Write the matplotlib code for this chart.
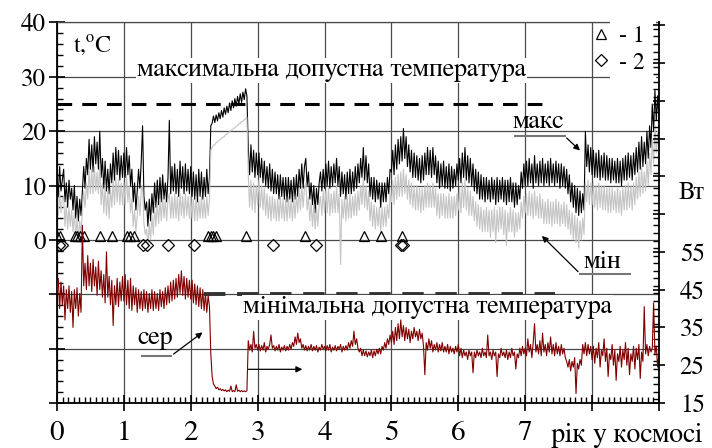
import numpy as np
import matplotlib
matplotlib.use("Agg")
import matplotlib.pyplot as plt
from matplotlib.lines import Line2D
from matplotlib.patches import Rectangle
from matplotlib.ticker import MultipleLocator, FixedLocator, FixedFormatter

plt.rcParams["font.family"] = ["FreeSerif", "Liberation Serif", "DejaVu Serif"]
plt.rcParams["mathtext.fontset"] = "custom"
plt.rcParams["mathtext.rm"] = "FreeSerif"

# max temperature, deg C, sampled every 0.02 year from 0 to 9 (two rows per year)
t_max = [
    12, 8, 13.5, 9, 11, 13, 7, 10.5, 6, 11, 7.5, 9.5, 5.5, 10, 4, 8, 3.5, 7.5, 4.5, 9, 13.5, 9.5, 15, 12, 18.5,
    13, 17.5, 12.5, 19, 14, 18, 13, 20, 11.5, 15, 9.5, 14.5, 9, 13, 8.5, 14, 10.5, 16, 11, 17, 12, 16.5, 11, 15.5, 11.5,
    16, 11.5, 17, 12, 15.5, 10, 13, 7, 10.5, 5.5, 9, 13, 9.5, 14.5, 21, 8, 5.5, 7, 2.5, 7.5, 3.5, 8.5, 5, 10.5, 6,
    11, 6.5, 11.5, 7, 12, 7.5, 10.5, 7, 11.5, 22, 8.5, 13.5, 9, 14, 8.5, 13, 8, 14.5, 9.5, 13.5, 8.5, 14, 9, 13, 8.5,
    13.5, 8, 12.5, 7.5, 12, 7, 13, 8, 12.5, 7.5, 11.5, 8, 13, 8.5, 11.5, 21, 21.5, 22.8, 21.6, 23, 21.9, 23.4, 22.3, 23.8, 22.6,
    24.3, 23.1, 24.6, 23.4, 25.2, 23.8, 25.6, 24.3, 26, 24.6, 26.4, 25, 26.9, 25.3, 27.2, 25.8, 27.8, 26.5, 17, 12, 17.5, 12.5, 16.5, 11.5, 16,
    12, 16, 11.5, 15, 10.5, 14.5, 10, 13.5, 9.5, 14, 9, 13, 8.5, 12.5, 8.5, 12, 7.5, 12, 8, 11.5, 7.5, 11.5, 7, 11.5, 7.5,
    11, 7, 11.5, 7.5, 12, 8, 13, 9.5, 14, 9.5, 13.5, 15, 10, 12.5, 7.5, 10.5, 6.5, 10, 5, 9.5, 6.5, 10.5, 12.5, 9, 13,
    9.5, 14, 10, 14.5, 9.5, 13.5, 10, 14, 10.5, 15, 10, 13.5, 8, 12.5, 8.5, 12, 7.5, 12.5, 8.5, 13, 8.5, 12.5, 9, 13.5, 9.5,
    14, 10.5, 15, 11.5, 17, 11, 15.5, 10.5, 14, 8, 11.5, 7.5, 11.5, 7, 11, 7.5, 10.5, 6, 10.5, 7, 10.5, 7, 11.5, 8.5, 13,
    12.5, 16.5, 12, 17.5, 13, 18.5, 14, 19, 14.5, 20.5, 15, 19, 13.5, 17.5, 12.5, 16.5, 11.5, 16, 11.5, 15.5, 11, 15, 10.5, 15.5, 11,
    16, 12, 17, 12, 16.5, 11.5, 17, 12, 15.5, 10.5, 14.5, 9.5, 14, 10, 14.5, 9.5, 13.5, 9.5, 14, 9, 13.5, 9.5, 13, 10, 14,
    11, 15, 10.5, 16, 11.5, 17, 11, 15.5, 10.5, 15, 10, 14, 9, 13, 8.5, 12.5, 7.5, 12, 7.5, 11.5, 7, 11.5, 7.5, 11, 7,
    11.5, 7.5, 11, 6.5, 11.5, 7, 11, 7.5, 11.5, 7, 11, 6.5, 11, 7, 11.5, 7, 10.5, 6, 10.5, 6.5, 10, 7.5, 12.5, 9.5, 14,
    10, 14.5, 10, 15, 10.5, 14, 9.5, 15.5, 10.5, 14, 10, 14.5, 10.5, 15, 10, 14, 10.5, 14.5, 10, 15, 10.5, 14, 10, 14.5, 10.5,
    14, 9.5, 14, 10, 13.5, 9.5, 13, 8.5, 12, 7, 10.5, 6, 10, 5, 9.5, 4.5, 9, 5, 8.5, 5.5, 20, 13.5, 17.5, 12.5, 17,
    12, 16.5, 11.5, 16, 11.5, 16.5, 11, 15.5, 11.5, 16, 11, 15.5, 11, 15, 10.5, 15, 11, 14.5, 10.5, 15, 10.5, 14.5, 10, 15, 11,
    15.5, 11, 16, 11.5, 15.5, 11, 16, 12, 17, 12.5, 18, 13, 19, 13.5, 18, 14, 20, 15, 21, 17, 25, 20, 27.5, 22, 26.5, 22,
]

# min temperature, deg C
t_min = [
    8, 4.5, 9, 5, 7.5, 8, 2.5, 6.5, 2, 6, 2.5, 5.5, 1.5, 5, 0.5, 4, 0, 3.5, 1, 5.5, 9, 6, 10.5, 7.5, 13,
    8.5, 13, 8.5, 13.5, 9, 12.5, 8.5, 14, 6.5, 10.5, 5, 10, 4.5, 9, 4, 9.5, 6, 11, 6.5, 11.5, 7, 11, 6.5, 10.5, 6.5,
    10.5, 6.5, 12, 7, 10, 5, 7.5, 2.5, 5.5, 1.5, 4.5, 8, 4.5, 9, 10, 3, 1, 2, -1, 3, 0, 4.5, 1, 6, 2.5,
    7, 3, 7.5, 3.5, 8, 4, 7.5, 3.5, 7.5, 8.5, 4, 8, 4, 8.5, 4, 8, 3.5, 8.5, 4.5, 8, 4, 8.5, 4.5, 8, 4,
    8, 4, 7.5, 3.5, 8, 3.5, 7.5, 4, 8, 4, 7.5, 4, 8, 4.5, 7.5, 16.5, 17, 17.4, 17.5, 17.9, 18, 18.3, 18.5, 18.6, 18.9,
    19, 19.4, 19.4, 19.8, 19.8, 20.2, 20.2, 20.5, 20.7, 20.9, 21, 21.4, 21.4, 21.8, 21.8, 22.1, 22.3, 22.6, 12, 6, 11, 5.5, 10.5, 5, 10,
    6.5, 11, 6, 10, 5.5, 9.5, 4.5, 8.5, 4, 8, 3.5, 8, 4, 7.5, 3.5, 7.5, 3.5, 8, 4, 7.5, 3.5, 7.5, 3.5, 8, 4,
    7.5, 3.5, 8, 4, 8.5, 5, 9.5, 5.5, 10, 6, 9.5, 10.5, 5.5, 8, 3.5, 7, 2.5, 6.5, 2, 6, 2.5, 6.5, 8, 4.5, 9,
    5, 9, 5, 9.5, 4.5, 8.5, 5, 9, 5, 10, 5, 8.5, -4.5, 7.5, 4, 8, 3.5, 8, 4, 8.5, 4, 8, 4.5, 8.5, 4.5,
    9, 5.5, 10, 6.5, 11.5, 6, 10, 5.5, 9, 3.5, 7, 2.5, 6.5, 2, 6, 2.5, 6, 1.5, 6, 2.5, 6, 2.5, 6.5, 4, 8.5,
    7, 11, 6.5, 11.5, 7.5, 12, 8, 12.5, 8, 13, 8.5, 12, 7.5, 11, 6.5, 10.5, 6, 10, 5.5, 10, 5.5, 9.5, 5, 9.5, 5.5,
    10, 6, 10.5, 6, 10, 6, 10.5, 6, 9.5, 4.5, 8.5, 4, 8.5, 4.5, 8.5, 4, 8, 4, 8.5, 4, 8, 4, 8, 4.5, 8.5,
    5.5, 9.5, 5, 10.5, 6, 11, 5.5, 9.5, 4.5, 9, 4.5, 8, 3.5, 7, 2.5, 6.5, 2, 6, 1.5, 5.5, 1.5, 6, 1.5, 5.5, 0.5,
    5.5, 1.5, 6, -0.5, 5.5, 1.5, 6, 2, 6, 1, 5.5, -1, 5, 1.5, 6, 1.5, 5.5, 0.5, 5, 1.5, 5, 2, 7, 4, 8,
    5, 8.5, 4.5, 9, 4.5, 8.5, 4, 9, 4.5, 8, 4, 8.5, 4, 7.5, 3, 7, 3, 7.5, 3, 7, 2.5, 7, 3, 7.5, 3,
    7, 2.5, 6.5, 3, 7, 2.5, 6.5, 2, 5.5, 1, 5, 0, 4.5, -0.5, 4, -1.5, 3.5, 0, 4, 1, 10.5, 7, 11, 6.5, 10.5,
    6.5, 10.5, 6, 10, 5.5, 10.5, 6, 10, 5.5, 10, 5.5, 9.5, 5, 9.5, 5, 9.5, 5.5, 9, 5, 9.5, 5, 9, 4.5, 9.5, 5.5,
    10, 5.5, 10.5, 6, 10, 5.5, 10.5, 6.5, 11.5, 7.5, 12.5, 8, 13.5, 8.5, 12.5, 9, 14.5, 10, 16, 12, 18.5, 14, 21, 16, 20, 15,
]

# mean power, W (right axis)
p_mean = [
    44, 48, 40, 47, 41, 46, 37, 45, 40, 46, 39, 44.5, 35, 45, 40, 45.5, 38, 44, 39, 62, 46, 52, 45, 54, 46,
    52, 44.5, 53, 46, 51, 43.5, 52.5, 45, 50, 43, 49, 41.5, 55, 43, 48.5, 41, 47.5, 35.5, 46, 41, 48, 40.5, 47, 42, 48.5,
    42, 49, 41, 47.5, 40, 48, 39.5, 46, 41, 45.5, 39, 45, 40, 44.5, 39.5, 45, 40, 44.5, 39, 44, 40, 45, 39.5, 44.5, 40,
    44, 39.5, 45, 40.5, 44.5, 40, 45.5, 41, 46, 41.5, 47, 42, 47.5, 42.5, 48, 43, 49, 44, 50, 43.5, 48.5, 42.5, 48, 43, 47.5,
    42.5, 47.5, 41.5, 46.5, 41, 46, 40.5, 45.5, 40, 45, 39.5, 44, 39, 43.5, 40.5, 28, 22, 20, 19.5, 18.8, 19.2, 18.5, 18.8, 18.3, 18.6,
    18.2, 18.5, 18, 18.4, 18.1, 19.5, 18, 18.3, 18, 19.8, 18.1, 18.4, 18, 18.3, 18, 18.2, 18, 18.3, 31.5, 29, 30.5, 28.5, 34, 29.5, 30.5,
    29, 30.5, 28.8, 30.2, 29, 31, 28.5, 30, 29.2, 30.5, 33, 29.5, 30.2, 28.8, 30, 29, 30.5, 28.5, 29.8, 29, 30.2, 28.8, 30, 29, 30.5,
    29.2, 31, 30, 32.5, 30.5, 33.5, 31, 32, 29.5, 30.5, 29, 30.2, 28.8, 30, 29, 30.5, 28.8, 30, 29, 30.2, 28.5, 29.8, 29, 30.5, 29.2,
    30, 28.8, 30.2, 29, 30.5, 28.5, 29.8, 29, 30.2, 28.8, 30, 29.2, 30.5, 28.5, 30, 29, 30.2, 29, 31, 29.5, 31.5, 30, 34, 30.5, 32,
    29.5, 28.5, 29.5, 27.5, 29, 27.5, 28.8, 27.2, 28.5, 27.5, 29, 27, 28.8, 27.5, 29.2, 28, 29.5, 28, 30, 29, 31, 29.5, 32, 30.5, 33,
    31, 34, 30.5, 35, 31.5, 36, 32, 37, 32.5, 35.5, 31.5, 35, 32, 34.5, 31, 34, 32, 35, 32.5, 34, 31.5, 34.5, 32, 33.5, 30,
    22.5, 31, 29, 32, 29.5, 31.5, 28.5, 30.5, 29, 31, 28.5, 30.5, 28.8, 31, 28.5, 30, 28.5, 30.5, 28, 30, 28.5, 29.5, 28, 30, 28.5,
    30.5, 27.5, 29.5, 27, 29, 27.5, 28.5, 26.5, 29, 27.5, 28.5, 23, 28.5, 27, 29, 27.5, 28.5, 27, 29.5, 27.5, 28.5, 27, 33, 27.5, 28.5,
    26.5, 29, 27.5, 28.5, 22, 28, 27, 29.5, 27.5, 28.5, 27, 29, 26.5, 28.5, 27, 29.5, 27.5, 28.5, 24, 28, 27, 29.5, 27.5, 30, 28,
    29.5, 27.5, 32, 28.5, 30.5, 27, 31, 36, 28.5, 30.5, 28, 31.5, 27.5, 33.5, 28.5, 30.5, 27.5, 31, 28.5, 32.5, 28, 30.5, 27.5, 31, 28,
    30, 27.5, 30.5, 28, 29.5, 27, 26, 24.5, 26.5, 23.5, 26, 24.5, 27, 17.5, 25.5, 24, 26.5, 25, 30.5, 28, 31, 27.5, 30.5, 28, 30,
    26.5, 30, 25.5, 29.5, 27, 31, 24.5, 29, 27.5, 32, 26, 29.5, 22, 28, 26.5, 30.5, 25, 29, 21, 28, 26, 30, 24.5, 29, 26.5,
    31, 25, 29.5, 22.5, 28, 26, 30, 24, 29.5, 26.5, 30.5, 21.5, 28.5, 26, 40.5, 28, 30.5, 27.5, 30, 28.5, 29.5, 41.5, 28, 30, 24.5, 28,
]

# event markers
events_1 = [0.0, 0.04, 0.27, 0.30, 0.34, 0.40, 0.65, 0.82, 1.04, 1.09, 1.15,
            2.26, 2.30, 2.34, 2.38, 2.83, 3.71, 4.59, 4.84, 5.16]
events_2 = [0.03, 0.08, 1.29, 1.35, 1.66, 2.05, 3.23, 3.87, 5.15, 5.17]

t_limit_max = 25
t_limit_min = -10

x_labels = ["0", "1", "2", "3", "4", "5", "6", "7", "", ""]
t_labels = ["", "", "", "0", "10", "20", "30", "40"]
p_labels = ["15", "25", "35", "45", "55"] + [""] * 6


def time_axis(values):
    return np.linspace(0.0, 9.0, len(values))


fig = plt.figure(figsize=(7.12, 4.48), dpi=100)
ax = fig.add_axes([0.080, 0.1004, 0.8455, 0.8494])
ax2 = ax.twinx()

ax.set_xlim(0, 9)
ax.set_ylim(-30, 40)
ax2.set_ylim(15, 115.7)

ax.set_axisbelow(True)
ax.grid(True, which="major", color="#4a4a4a", lw=0.9)

# limits
ax.plot([0, 7.25], [t_limit_max] * 2, color="black", lw=2.2, dashes=(4.8, 3.3))
ax.plot([2.2, 7.45], [t_limit_min] * 2, color="#333333", lw=2.8, dashes=(5.5, 3))

ax.plot(time_axis(t_max), t_max, color="black", lw=0.8)
ax.plot(time_axis(t_min), t_min, color="#c4c4c4", lw=0.8)
ax2.plot(time_axis(p_mean), p_mean, color="#800000", lw=0.8)

ax.plot(events_1, [0.8] * len(events_1), ls="none", marker="^", ms=7.5,
        mfc="none", mec="black", mew=0.9)
ax.plot(events_2, [-1.0] * len(events_2), ls="none", marker="D", ms=6,
        mfc="none", mec="black", mew=0.9)

# texts
ax.text(0.235, 34.4, "t,$^{\\mathrm{o}}$C", fontsize=17, va="baseline")
ax.text(1.196, 30.1, "максимальна допустна температура", fontsize=19, va="baseline",
        bbox=dict(facecolor="white", edgecolor="none", pad=0.5), zorder=3)
ax.text(2.78, -13.5, "мінімальна допустна температура", fontsize=19, va="baseline",
        bbox=dict(facecolor="white", edgecolor="none", pad=0.5), zorder=3)

arrow = dict(arrowstyle="-|>", color="black", lw=0.9, mutation_scale=9)

ax.text(7.19, 20.5, "макс", fontsize=19, ha="center", va="baseline")
ax.plot([6.85, 7.59], [19.1, 19.1], color="#777777", lw=1.5)
ax.annotate("", xy=(7.85, 16.1), xytext=(7.59, 19.1), arrowprops=arrow)

ax.text(8.16, -5.1, "мін", fontsize=19, ha="center", va="baseline")
ax.plot([7.82, 8.57], [-6.2, -6.2], color="#777777", lw=1.5)
ax.annotate("", xy=(7.22, 1.1), xytext=(7.82, -6.2), arrowprops=arrow)

ax.text(1.46, -19.1, "сер", fontsize=19, ha="center", va="baseline")
ax.plot([1.27, 1.71], [-21.3, -21.3], color="#777777", lw=1.5)
ax.annotate("", xy=(2.21, -16.7), xytext=(1.71, -21.3), arrowprops=arrow)
ax.annotate("", xy=(3.71, -23.8), xytext=(2.81, -23.8), arrowprops=arrow)

# ticks
ax.xaxis.set_major_locator(FixedLocator(range(10)))
ax.xaxis.set_major_formatter(FixedFormatter(x_labels))
ax.xaxis.set_minor_locator(MultipleLocator(1 / 12))
ax.yaxis.set_major_locator(FixedLocator(range(-30, 41, 10)))
ax.yaxis.set_major_formatter(FixedFormatter(t_labels))
ax.yaxis.set_minor_locator(MultipleLocator(2))
ax.tick_params(axis="both", which="major", direction="inout", length=12, width=1.2)
ax.tick_params(axis="both", which="minor", direction="in", length=4.5, width=1)
ax.tick_params(axis="x", which="major", labelsize=21, pad=7)
ax.tick_params(axis="y", which="major", labelsize=18, pad=2)

ax2.yaxis.set_major_locator(FixedLocator(range(15, 116, 10)))
ax2.yaxis.set_major_formatter(FixedFormatter(p_labels))
ax2.yaxis.set_minor_locator(MultipleLocator(2))
ax2.tick_params(axis="y", which="major", direction="inout", length=8, width=1.2,
                labelsize=18, pad=11)
ax2.tick_params(axis="y", which="minor", direction="in", length=4.5, width=1)

ax.annotate("рік у космосі", xy=(8.52, 0), xycoords=("data", "axes fraction"),
            xytext=(0, -14), textcoords="offset points", ha="center", va="top",
            fontsize=20)
ax2.annotate("Вт", xy=(1.032, 70.6), xycoords=("axes fraction", "data"),
             ha="left", va="center", fontsize=18)

for s in ["left", "bottom"]:
    ax.spines[s].set_linewidth(1.3)
ax.spines["right"].set_visible(False)
ax.spines["top"].set_color("#4a4a4a")
ax.spines["top"].set_linewidth(0.9)
for s in ["left", "bottom", "top"]:
    ax2.spines[s].set_visible(False)
ax2.spines["right"].set_linewidth(1.3)

# legend
ax.add_patch(Rectangle((0.9186, 0.849), 0.0764, 0.16, transform=ax.transAxes,
                       facecolor="white", edgecolor="none", zorder=4, clip_on=False))
handles = [
    Line2D([], [], ls="none", marker="^", ms=7.5, mfc="none", mec="black", mew=0.9),
    Line2D([], [], ls="none", marker="D", ms=6, mfc="none", mec="black", mew=0.9),
]
ax.legend(handles, ["- 1", "- 2"], loc="upper left", bbox_to_anchor=(0.884, 0.991),
          frameon=False, fontsize=17, handlelength=1.0, handletextpad=0.25,
          labelspacing=0.2, borderpad=0, borderaxespad=0)

fig.savefig("out.png", dpi=100)
